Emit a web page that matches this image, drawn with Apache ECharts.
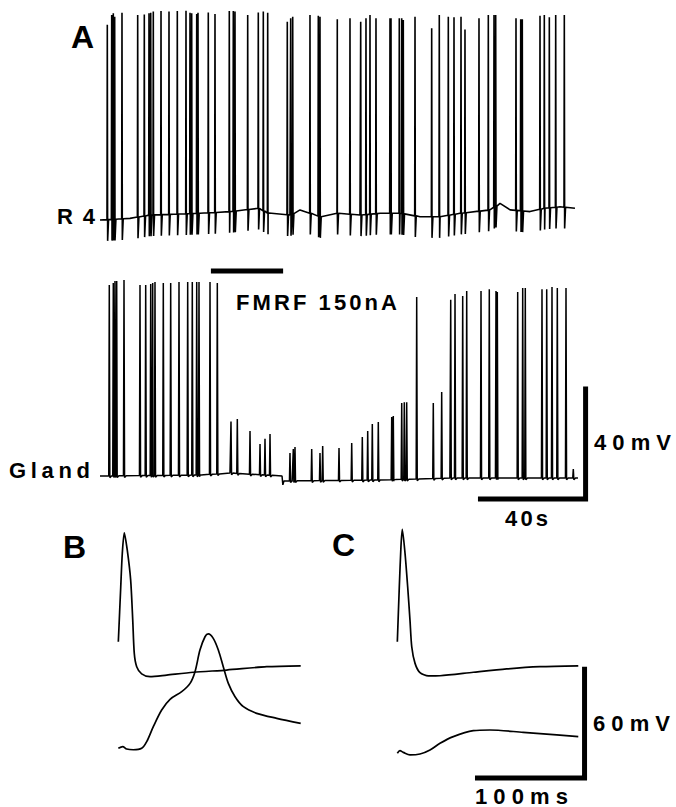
<!DOCTYPE html>
<html><head><meta charset="utf-8">
<script src="https://cdn.jsdelivr.net/npm/echarts@6/dist/echarts.min.js"></script>
<style>html,body{margin:0;padding:0;background:#fff}#main{width:676px;height:807px}</style>
</head><body><div id="main"></div>
<script>
// ---------- Panel A : R4 trace (time in s, membrane potential in mV rel.) ----------
const r4SpikeTimes = [2.68,4.29,4.88,5.39,8.07,13.83,16.26,17.98,18.61,19.56,22.39,25.32,28.37,31.56,33.03,33.65,35.49,35.96,39.74,42.20,47.45,48.92,49.54,54.20,58.09,59.93,61.54,68.73,69.98,70.72,77.06,80.11,80.73,87.08,91.74,95.67,97.61,99.08,101.28,106.42,106.79,109.83,110.72,111.30,115.60,121.72,124.51,127.82,129.91,132.48,133.94,139.08,142.50,144.59,145.21,152.66,154.39,154.97,161.47,163.05,164.89,167.23,170.39];
const r4SpikePeaks = [67.2,70.7,71.3,70.1,71.5,70.7,70.9,71.3,71.5,71.9,72.1,71.9,72.1,72.2,71.5,71.3,71.0,71.5,71.6,71.0,72.1,72.1,71.9,70.7,71.6,71.9,71.5,68.3,69.5,70.1,70.7,70.4,70.1,69.2,69.5,68.3,69.5,70.7,69.5,69.5,69.5,69.5,69.5,68.9,70.1,66.0,70.7,70.1,69.9,70.1,65.6,69.5,70.7,70.7,70.7,69.5,69.2,69.2,70.4,70.7,69.9,70.7,70.7];
const r4Undershoot = 7.5;
const r4BaseTimes  = [0,11,18.3,36.7,47.7,58,61.7,69.7,73.4,80.7,87.1,95.4,102.8,110.1,117.4,124.8,132.1,143.1,146.8,150.5,157.8,163.3,168.8,174.3];
const r4BaseValues = [-1.9,-1.3,-0.1,0.5,1.1,2.3,0.5,-0.1,1.7,-0.7,0.5,-0.1,0.5,0.5,-0.7,-0.7,0.5,1.7,4.0,1.7,1.1,2.3,2.8,2.3];

// ---------- Panel A : Gland trace ----------
const glandSpikeTimes = [3.41,4.88,5.50,6.13,8.81,14.68,16.77,18.61,19.34,20.18,23.23,25.94,28.99,32.18,33.87,35.49,36.33,40.37,43.05,48.07,50.39,55.05,58.72,60.55,62.39,69.72,70.94,71.56,77.69,80.73,81.72,87.71,92.37,96.26,98.24,99.93,102.13,107.05,107.63,110.72,111.67,112.55,116.22,122.31,125.39,128.70,130.28,133.10,134.57,139.82,142.86,145.32,145.80,153.28,155.12,156.07,162.20,163.93,165.87,167.82,171.01,173.69];
const glandSpikePeaks = [68.0,68.7,69.4,69.4,69.7,68.0,68.0,68.3,68.7,69.0,68.7,68.7,69.0,69.0,69.0,69.0,69.0,69.0,68.7,19.6,20.5,16.3,11.7,13.5,15.2,8.5,9.9,10.6,9.9,8.5,11.0,10.3,12.0,14.2,16.3,18.8,19.5,21.2,21.6,26.2,26.5,26.5,63.7,26.2,30.1,62.7,64.8,64.1,65.8,65.8,66.5,65.8,65.5,65.5,66.9,66.9,66.5,66.5,67.3,66.9,66.9,2.8];
const glandBaseTimes  = [0,36.7,47.7,66.8,67.1,67.5,102.8,128.4,175.4];
const glandBaseValues = [0.35,0.7,1.4,0.35,-2.8,-1.4,-1.06,-0.35,-0.35];

// FMRF application (s) and scale bars
const fmrfTimes = [40.7, 67.2];
const fmrfLevel = [72.9, 72.9];
const scaleA_s  = [138.7, 178.2, 178.2];   // 40 s
const scaleA_mV = [-7.8, -7.8, 32.0];      // 40 mV

// ---------- Panel B (ms, mV) ----------
const b1Ms = [0.3,2.5,3.9,5.7,8.4,11.5,13.4,14.8,17.0,21.5,29.1,44.3,68.5,98.8,135.2,166.1];
const b1mV = [84.2,113.9,131.9,143.1,133.8,117.6,95.9,77.9,70.7,66.8,65.3,66.2,67.7,68.9,70.7,71.2];
const b2Ms = [0.3,4.3,7.9,13.9,21.5,26.1,32.1,39.7,47.3,57.9,65.5,70.0,74.5,79.1,82.1,86.6,91.2,95.7,100.3,106.4,114.0,126.1,144.3,166.1];
const b2mV = [26.6,27.5,26.2,25.8,26.6,30.2,38.3,47.3,53.1,57.2,61.7,68.0,79.7,86.9,88.4,86.0,79.7,70.7,61.7,54.5,49.1,45.5,42.8,40.1];

// ---------- Panel C (ms, mV) ----------
const c1Ms = [0.3,2.1,3.6,4.8,7.3,9.7,11.8,13.4,16.4,20.9,28.5,39.1,69.4,99.7,130.0,164.8];
const c1mV = [84.2,113.9,135.6,145.0,132.0,113.9,95.9,81.5,72.5,67.5,65.7,65.8,67.7,69.5,70.7,71.2];
const c2Ms = [0.3,2.7,5.7,11.8,20.9,30.0,39.1,51.2,69.4,84.5,114.8,145.2,164.8];
const c2mV = [23.9,25.3,24.4,23.0,23.5,25.7,29.3,32.9,36.1,36.5,35.2,33.8,32.9];
const scaleC_ms = [70.9, 170.5, 170.5];    // 100 ms
const scaleC_mV = [10.5, 10.5, 70.7];      // 60 mV

// ---------- labels ----------
const panelLetters = ['A','B','C'];
const traceNames = ['R4','Gland'];
const stimLabel = 'FMRF 150nA';
const scaleLabels = ['40mV','40s','60mV','100ms'];

// ---------- helpers ----------
function zip(a,b){ return a.map((v,i)=>[v,b[i]]); }
function interp(ts, vs, t){
  if (t <= ts[0]) return vs[0];
  for (let i=1;i<ts.length;i++){ if (t <= ts[i]) { const f=(t-ts[i-1])/(ts[i]-ts[i-1]); return vs[i-1]+f*(vs[i]-vs[i-1]); } }
  return vs[vs.length-1];
}
function spikeTrace(bt, bv, st, sp, under, pre, post){
  const pts = zip(bt, bv);
  st.forEach((t,i)=>{
    const b = interp(bt,bv,t);
    pts.push([t-pre,b],[t,sp[i]],[t+pre,b-under],[t+post,b]);
  });
  pts.sort((a,b)=>a[0]-b[0]);
  return pts;
}

const chart = echarts.init(document.getElementById('main'), null, {renderer:'svg'});
const pxS = 2.725, pxMVa = 2.825, pxMs = 1.1, pxMVb = 1.85;
const hid = {show:false};
function ax(min,max,gi){ return {type:'value', min, max, gridIndex:gi, show:false, axisLine:hid, axisTick:hid, axisLabel:hid, splitLine:hid}; }
const lineBase = {type:'line', symbol:'none', showSymbol:false, silent:true, animation:false};
const black = '#000';

const font = 'bold 22px "Liberation Sans", Arial, sans-serif';
const bigFont = 'bold 32px "Liberation Sans", Arial, sans-serif';
function txt(text, x, y, f){ return {type:'text', x, y, silent:true, style:{text, font:f||font, fill:black, align:'left', verticalAlign:'middle'}}; }

chart.setOption({
  backgroundColor:'#fff',
  animation:false,
  grid:[
    {left:100, top:0,   width:185*pxS, height:88*pxMVa},
    {left:100, top:251, width:185*pxS, height:90*pxMVa},
    {left:118, top:520, width:170*pxMs, height:150*pxMVb},
    {left:397, top:520, width:175*pxMs, height:150*pxMVb}
  ],
  xAxis:[ax(0,185,0), ax(0,185,1), ax(0,170,2), ax(0,175,3)],
  yAxis:[ax(-12,76,0), ax(-10,80,1), ax(0,150,2), ax(0,150,3)],
  series:[
    Object.assign({}, lineBase, {name:'R4', xAxisIndex:0, yAxisIndex:0, data:spikeTrace(r4BaseTimes,r4BaseValues,r4SpikeTimes,r4SpikePeaks,r4Undershoot,0.12,0.45), lineStyle:{color:black,width:1.6}}),
    Object.assign({}, lineBase, {name:'Gland', xAxisIndex:1, yAxisIndex:1, data:spikeTrace(glandBaseTimes,glandBaseValues,glandSpikeTimes,glandSpikePeaks,0.6,0.2,0.8), lineStyle:{color:black,width:1.5}}),
    Object.assign({}, lineBase, {name:'FMRF', xAxisIndex:1, yAxisIndex:1, data:zip(fmrfTimes,fmrfLevel), lineStyle:{color:black,width:5,cap:'butt'}}),
    Object.assign({}, lineBase, {name:'scaleA', xAxisIndex:1, yAxisIndex:1, data:zip(scaleA_s,scaleA_mV), lineStyle:{color:black,width:5,join:'miter',cap:'butt'}}),
    Object.assign({}, lineBase, {name:'B1', xAxisIndex:2, yAxisIndex:2, smooth:0.25, data:zip(b1Ms,b1mV), lineStyle:{color:black,width:1.7}}),
    Object.assign({}, lineBase, {name:'B2', xAxisIndex:2, yAxisIndex:2, smooth:0.3, data:zip(b2Ms,b2mV), lineStyle:{color:black,width:1.7}}),
    Object.assign({}, lineBase, {name:'C1', xAxisIndex:3, yAxisIndex:3, smooth:0.25, data:zip(c1Ms,c1mV), lineStyle:{color:black,width:1.7}}),
    Object.assign({}, lineBase, {name:'C2', xAxisIndex:3, yAxisIndex:3, smooth:0.3, data:zip(c2Ms,c2mV), lineStyle:{color:black,width:1.7}}),
    Object.assign({}, lineBase, {name:'scaleC', xAxisIndex:3, yAxisIndex:3, data:zip(scaleC_ms,scaleC_mV), lineStyle:{color:black,width:5,join:'miter',cap:'butt'}})
  ],
  graphic:[
    txt(panelLetters[0], 71, 37, bigFont),
    txt(panelLetters[1], 63, 547, bigFont),
    txt(panelLetters[2], 332, 545, bigFont),
    txt(traceNames[0], 57, 216),
    txt(traceNames[1], 9, 470),
    txt(stimLabel, 236, 302),
    txt(scaleLabels[0], 594, 442),
    txt(scaleLabels[1], 505, 518),
    txt(scaleLabels[2], 593, 723),
    txt(scaleLabels[3], 475, 796)
  ]
});

// spread letters like the original lettering: total advance width per label
const spread = {'R4':38,'Gland':81,'FMRF 150nA':161,'40mV':77,'40s':43,'60mV':77,'100ms':93};
function applySpread(){
  document.querySelectorAll('#main svg text').forEach(el=>{
    const w = spread[el.textContent];
    if (w != null) { el.setAttribute('textLength', w); el.setAttribute('lengthAdjust', 'spacing'); }
  });
}
applySpread();
chart.on('finished', applySpread);
</script></body></html>
